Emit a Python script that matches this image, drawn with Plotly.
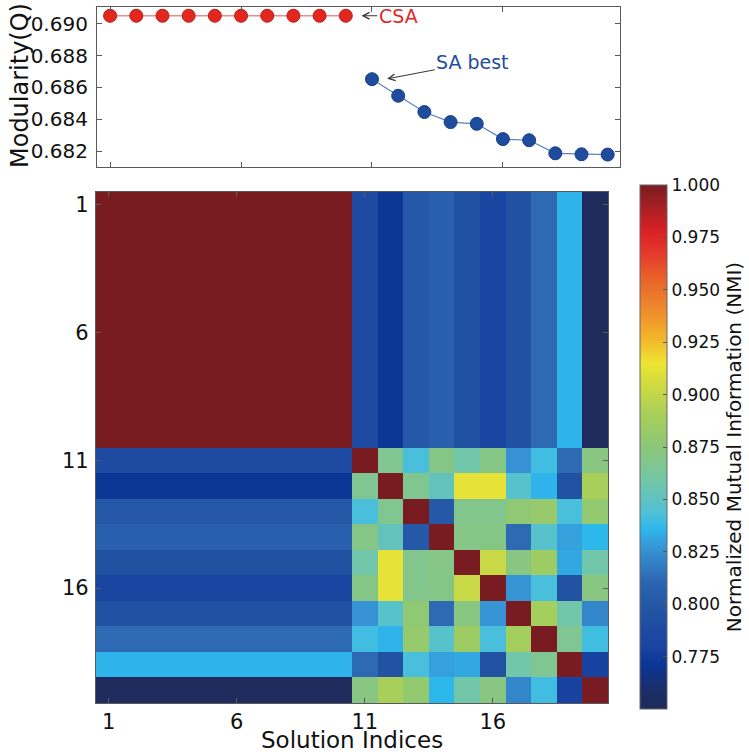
import plotly.graph_objects as go

# ---------------- data ----------------
solution_idx = list(range(1, 21))
csa_idx = list(range(1, 11))
sa_idx = list(range(11, 21))
csa_modularity = [0.6905] * 10
sa_modularity = [0.68652, 0.68548, 0.68446, 0.68383, 0.68372,
                 0.68276, 0.68269, 0.68187, 0.68181, 0.68179]

# NMI between CSA solutions (all identical)
nmi_csa_csa = [[1.0] * 10 for _ in range(10)]
# NMI between each SA solution (11..20) and any CSA solution
nmi_csa_sa = [0.788, 0.772, 0.800, 0.806, 0.795, 0.781, 0.794, 0.812, 0.835, 0.752]
# NMI among SA solutions 11..20
nmi_sa_sa = [
    [1.000, 0.866, 0.842, 0.870, 0.858, 0.870, 0.826, 0.840, 0.812, 0.872],
    [0.866, 1.000, 0.867, 0.852, 0.912, 0.912, 0.847, 0.835, 0.796, 0.890],
    [0.842, 0.867, 1.000, 0.800, 0.868, 0.868, 0.878, 0.881, 0.842, 0.879],
    [0.870, 0.852, 0.800, 1.000, 0.870, 0.870, 0.812, 0.847, 0.830, 0.836],
    [0.858, 0.912, 0.868, 0.870, 1.000, 0.902, 0.872, 0.885, 0.832, 0.858],
    [0.870, 0.912, 0.868, 0.870, 0.902, 1.000, 0.827, 0.842, 0.796, 0.872],
    [0.826, 0.847, 0.878, 0.812, 0.872, 0.827, 1.000, 0.888, 0.858, 0.822],
    [0.840, 0.835, 0.881, 0.847, 0.885, 0.842, 0.888, 1.000, 0.866, 0.840],
    [0.812, 0.796, 0.842, 0.830, 0.832, 0.796, 0.858, 0.866, 1.000, 0.779],
    [0.872, 0.890, 0.879, 0.836, 0.858, 0.872, 0.822, 0.840, 0.779, 1.000],
]
tick_idx = [1, 6, 11, 16]
q_ticks = [0.682, 0.684, 0.686, 0.688, 0.690]
cbar_ticks = [0.775, 0.800, 0.825, 0.850, 0.875, 0.900, 0.925, 0.950, 0.975, 1.000]

# build full matrix
z = []
for i in range(10):
    z.append(nmi_csa_csa[i] + nmi_csa_sa)
for i in range(10):
    z.append([nmi_csa_sa[i]] * 10 + nmi_sa_sa[i])

colorscale = [
    [0.000, "#1f2a58"], [0.040, "#1b2d6c"], [0.084, "#0a3594"], [0.120, "#1a44a0"],
    [0.180, "#2152a2"], [0.244, "#2d66b2"], [0.308, "#3795d6"], [0.344, "#2db8ec"],
    [0.372, "#4ec0d8"], [0.436, "#74c6a6"], [0.500, "#8cc679"], [0.564, "#a9d058"],
    [0.628, "#d8dc3e"], [0.660, "#eee533"], [0.704, "#f3b82c"], [0.756, "#ef8f2c"],
    [0.820, "#e8642a"], [0.880, "#e3322a"], [0.912, "#d92226"], [1.000, "#781c22"],
]

W, H = 749, 754
FONT = "DejaVu Sans"

fig = go.Figure()

fig.add_trace(go.Scatter(
    x=csa_idx, y=csa_modularity, mode="lines+markers",
    line=dict(color="#f08a84", width=1.5),
    marker=dict(size=13, color="#e3261e", line=dict(color="#b41d18", width=1)),
    xaxis="x", yaxis="y", showlegend=False, hoverinfo="skip"))
fig.add_trace(go.Scatter(
    x=sa_idx, y=sa_modularity, mode="lines+markers",
    line=dict(color="#5b80c2", width=1.2),
    marker=dict(size=13, color="#1f4c9c", line=dict(color="#173f88", width=1)),
    xaxis="x", yaxis="y", showlegend=False, hoverinfo="skip"))

fig.add_trace(go.Heatmap(
    z=z, x=solution_idx, y=solution_idx, colorscale=colorscale,
    zmin=0.75, zmax=1.0, xaxis="x2", yaxis="y2",
    colorbar=dict(
        x=640 / W, xanchor="left", xpad=0, ypad=0,
        y=1 - 447 / H, yanchor="middle",
        len=524, lenmode="pixels", thickness=27, thicknessmode="pixels",
        tickvals=cbar_ticks, tickformat=".3f", ticks="inside", ticklen=4,
        tickcolor="#555", outlinecolor="#666", outlinewidth=1,
        tickfont=dict(family=FONT, size=17, color="#111"),
        title=dict(text="Normalized Mutual Information (NMI)", side="right",
                   font=dict(family=FONT, size=20, color="#111")),
    )))

axis_common = dict(showline=True, linecolor="#5a5a5a", linewidth=1.2, mirror="ticks",
                   ticks="inside", tickcolor="#5a5a5a", ticklen=5, showgrid=False,
                   zeroline=False, automargin=False)

fig.update_layout(
    width=W, height=H, margin=dict(l=0, r=0, t=0, b=0),
    paper_bgcolor="white", plot_bgcolor="white",
    font=dict(family=FONT, color="#111"),
    xaxis=dict(domain=[97 / W, 620 / W], anchor="y", range=[0.5, 20.47],
               tickvals=tick_idx, showticklabels=False, **axis_common),
    yaxis=dict(domain=[1 - 167 / H, 1 - 7 / H], anchor="x", range=[0.68101, 0.69105],
               tickvals=q_ticks, tickformat=".3f", ticklabelstandoff=4,
               tickfont=dict(family=FONT, size=20), **axis_common),
    xaxis2=dict(domain=[96 / W, 608 / W], anchor="y2", range=[0.5, 20.5],
                tickvals=tick_idx, tickfont=dict(family=FONT, size=21), **axis_common),
    yaxis2=dict(domain=[1 - 703 / H, 1 - 192 / H], anchor="x2", range=[20.5, 0.5],
                tickvals=tick_idx, tickfont=dict(family=FONT, size=21), ticklabelstandoff=2,
                **axis_common),
)

# axis titles
fig.add_annotation(x=20 / W, y=1 - 86 / H, xref="paper", yref="paper",
                   text="Modularity(Q)", textangle=-90, showarrow=False,
                   xanchor="center", yanchor="middle",
                   font=dict(family=FONT, size=24, color="#111"))
fig.add_annotation(x=352 / W, y=0, xref="paper", yref="paper",
                   text="Solution Indices", showarrow=False, borderpad=0,
                   xanchor="center", yanchor="bottom",
                   font=dict(family=FONT, size=23, color="#111"))

fig.add_annotation(x=10.6, y=0.6905, ax=12.0, ay=0.6905, axref="x", ayref="y",
                   xref="x", yref="y", text="CSA", showarrow=True,
                   arrowhead=5, arrowsize=1.3, arrowwidth=1, arrowcolor="#333",
                   font=dict(family=FONT, size=19, color="#e0282a"))
fig.add_annotation(x=11.58, y=0.68654, ax=14.85, ay=0.68757, axref="x", ayref="y",
                   xref="x", yref="y", text="SA best", showarrow=True,
                   arrowhead=5, arrowsize=1.3, arrowwidth=1, arrowcolor="#333",
                   font=dict(family=FONT, size=19, color="#1f4c9c"))

fig.write_html("out.html", config={"displayModeBar": False},
               post_script="document.body.style.margin='0';document.body.style.overflow='hidden';")
